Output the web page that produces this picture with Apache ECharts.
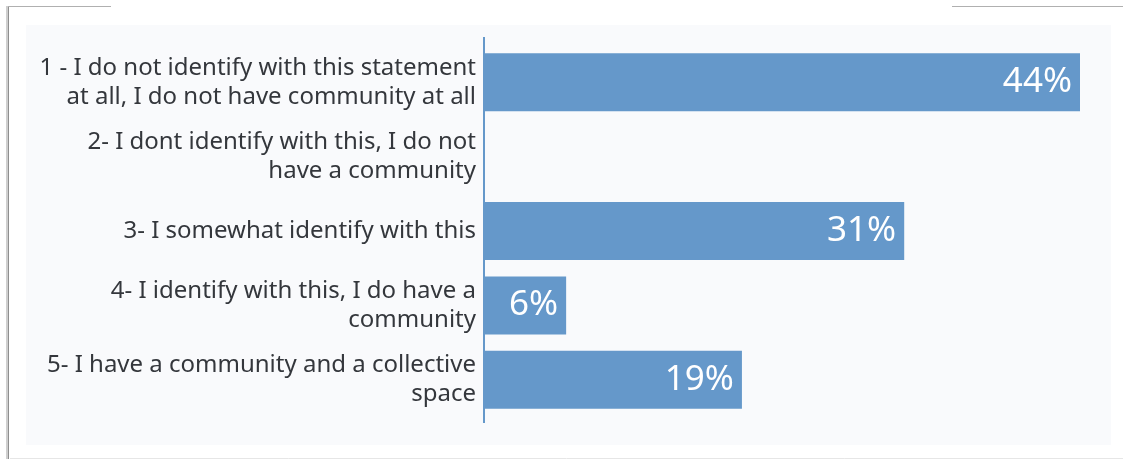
<!DOCTYPE html>
<html>
<head>
<meta charset="utf-8">
<script src="https://cdn.jsdelivr.net/npm/echarts@6/dist/echarts.min.js"></script>
<style>
  html, body { margin: 0; padding: 0; background: #ffffff; }
  #chart { width: 1123px; height: 459px; }
</style>
</head>
<body>
<div id="chart"></div>
<script>
// Survey answers, top to bottom
const categories = [
  '1 - I do not identify with this statement\nat all, I do not have community at all',
  '2- I dont identify with this, I do not\nhave a community',
  '3- I somewhat identify with this',
  '4- I identify with this, I do have a\ncommunity',
  '5- I have a community and a collective\nspace'
];
// Share of respondents, percent
const shares = [44, 0, 31, 6, 19];

const BAR = '#6598ca';
const FONT = '"Source Sans Pro", "Noto Sans", "Open Sans", sans-serif';

const chart = echarts.init(document.getElementById('chart'), null, { renderer: 'canvas' });

const gridLeft = 485, gridTop = 45, gridHeight = 372, gridWidth = 595;

chart.setOption({
  animation: false,
  backgroundColor: '#ffffff',
  grid: { left: gridLeft, top: gridTop, width: gridWidth, height: gridHeight, containLabel: false },
  xAxis: {
    type: 'value', min: 0, max: 44, show: false
  },
  yAxis: {
    type: 'category',
    data: categories,
    inverse: true,
    axisLine: { show: false },
    axisTick: { show: false },
    axisLabel: {
      color: '#34373c',
      fontFamily: FONT,
      fontSize: 24,
      lineHeight: 29,
      margin: 9,
      align: 'right',
      padding: [0, 0, 6, 0]
    }
  },
  series: [{
    type: 'bar',
    data: shares.map(v => (v > 0 ? v : null)),
    barWidth: 58,
    itemStyle: { color: BAR },
    label: {
      show: true,
      position: 'insideRight',
      distance: 8,
      color: '#ffffff',
      fontFamily: FONT,
      fontSize: 35,
      formatter: p => p.value + '%'
    }
  }],
  graphic: [
    // light panel behind the chart
    { type: 'rect', z: -10, silent: true,
      shape: { x: 26, y: 25, width: 1085, height: 420 },
      style: { fill: '#f9fafc' } },
    // page frame edges
    { type: 'line', z: -5, silent: true,
      shape: { x1: 8.5, y1: 6, x2: 8.5, y2: 459 },
      style: { stroke: '#8f8f8f', lineWidth: 1 } },
    { type: 'line', z: -5, silent: true,
      shape: { x1: 7, y1: 6, x2: 7, y2: 459 },
      style: { stroke: '#cfcfcf', lineWidth: 2 } },
    { type: 'line', z: -5, silent: true,
      shape: { x1: 8, y1: 6.5, x2: 111, y2: 6.5 },
      style: { stroke: '#b0b0b0', lineWidth: 1 } },
    { type: 'line', z: -5, silent: true,
      shape: { x1: 952, y1: 6.5, x2: 1123, y2: 6.5 },
      style: { stroke: '#b0b0b0', lineWidth: 1 } },
    { type: 'line', z: -5, silent: true,
      shape: { x1: 10, y1: 458.5, x2: 1123, y2: 458.5 },
      style: { stroke: '#e6e6e6', lineWidth: 1 } },
    // category axis line
    { type: 'line', z: 5, silent: true,
      shape: { x1: gridLeft - 1, y1: gridTop - 8, x2: gridLeft - 1, y2: gridTop + gridHeight + 6 },
      style: { stroke: BAR, lineWidth: 2 } }
  ]
});
</script>
</body>
</html>
